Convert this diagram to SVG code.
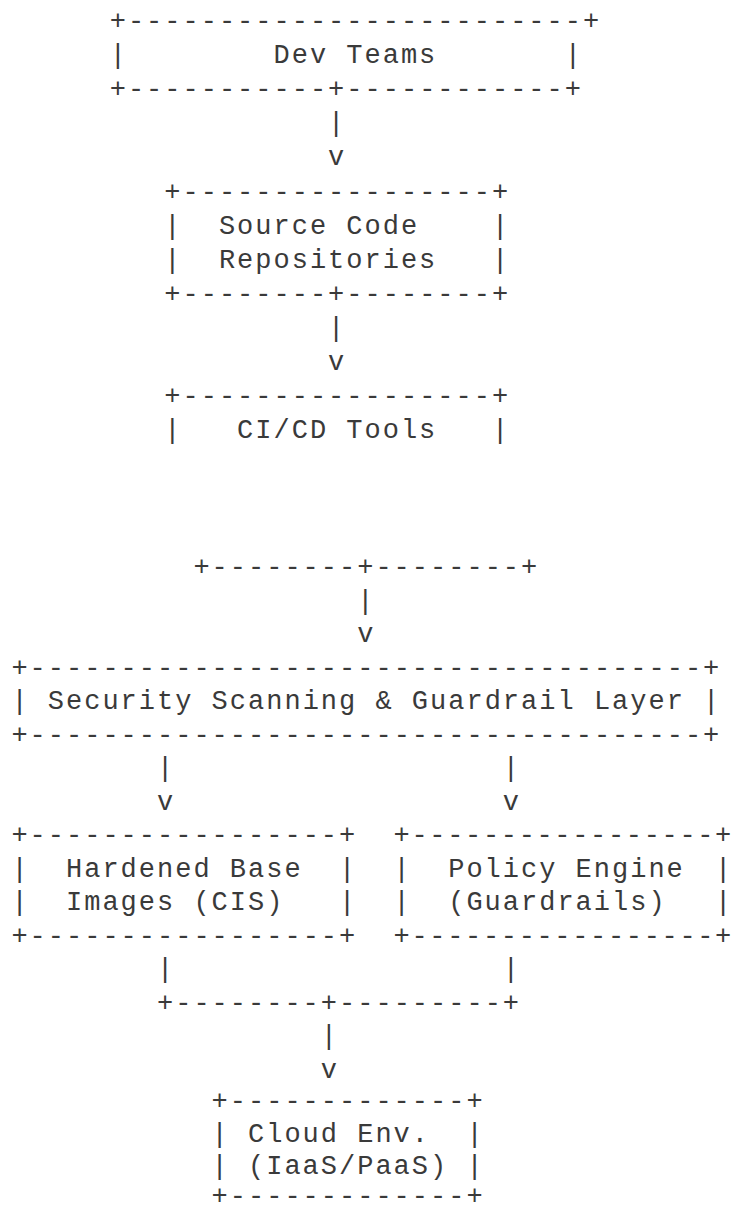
<svg xmlns="http://www.w3.org/2000/svg" width="732" height="1212" viewBox="0 0 732 1212">
<style>
text{font-family:"Courier New","Liberation Mono",monospace;font-size:27px;letter-spacing:2px;fill:#3a3a3a}
.tight{letter-spacing:1.66px}
</style>
<rect width="732" height="1212" fill="#fff"/>
<g id="dev-teams">
<text x="109.7" y="29">+-------------------------+</text>
<text x="109.7" y="63.1">|</text><text x="273.5" y="63.1">Dev Teams</text><text x="564.7" y="63.1">|</text>
<text x="109.7" y="97.2">+-----------+------------+</text>
</g>
<g id="source-code">
<text x="164.3" y="199.5">+-----------------+</text>
<text x="164.3" y="233.6">|</text><text x="218.9" y="233.6">Source Code</text><text x="491.9" y="233.6">|</text>
<text x="164.3" y="267.7">|</text><text x="218.9" y="267.7">Repositories</text><text x="491.9" y="267.7">|</text>
<text x="164.3" y="301.8">+--------+--------+</text>
</g>
<g id="cicd-tools">
<text x="164.3" y="404.1">+-----------------+</text>
<text x="164.3" y="438.2">|</text><text x="237.1" y="438.2">CI/CD Tools</text><text x="491.9" y="438.2">|</text>
<text x="193.4" y="575.3">+--------+--------+</text>
</g>
<g id="security-layer">
<text x="11.4" y="675.8">+-------------------------------------+</text>
<text x="11.4" y="709.3">|</text><text x="47.8" y="709.3">Security Scanning &amp; Guardrail Layer</text><text x="703" y="709.3">|</text>
<text x="11.4" y="742.8">+-------------------------------------+</text>
</g>
<g id="hardened-images">
<text x="11.4" y="843.3">+-----------------+</text>
<text x="11.4" y="876.8">|</text><text x="66" y="876.8">Hardened Base</text><text x="339" y="876.8">|</text>
<text x="11.4" y="910.3">|</text><text x="66" y="910.3">Images (CIS)</text><text x="339" y="910.3">|</text>
<text x="11.4" y="943.8">+-----------------+</text>
</g>
<g id="policy-engine">
<text class="tight" x="393.6" y="843.3">+-----------------+</text>
<text x="393.6" y="876.8">|</text><text x="448.2" y="876.8">Policy Engine</text><text x="715" y="876.8">|</text>
<text x="393.6" y="910.3">|</text><text x="448.2" y="910.3">(Guardrails)</text><text x="715" y="910.3">|</text>
<text class="tight" x="393.6" y="943.8">+-----------------+</text>
</g>
<g id="cloud-env">
<text x="211.6" y="1109">+-------------+</text>
<text x="211.6" y="1141.5">|</text><text x="248" y="1141.5">Cloud Env.</text><text x="466.6" y="1141.5">|</text>
<text x="211.6" y="1174">|</text><text x="248" y="1174">(IaaS/PaaS)</text><text x="466.6" y="1174">|</text>
<text x="211.6" y="1204">+-------------+</text>
</g>
<g id="connectors">
<text x="328.1" y="131.3">|</text><text x="328.1" y="165.4">v</text>
<text x="328.1" y="335.9">|</text><text x="328.1" y="370">v</text>
<text x="357.2" y="608.8">|</text><text x="357.2" y="642.3">v</text>
<text x="157" y="776.3">|</text><text x="502.8" y="776.3">|</text>
<text x="157" y="809.8">v</text><text x="502.8" y="809.8">v</text>
<text x="157" y="977.3">|</text><text x="502.8" y="977.3">|</text>
<text x="157" y="1010.8">+--------+---------+</text>
<text x="320.8" y="1044.3">|</text><text x="320.8" y="1077.8">v</text>
</g>
</svg>
